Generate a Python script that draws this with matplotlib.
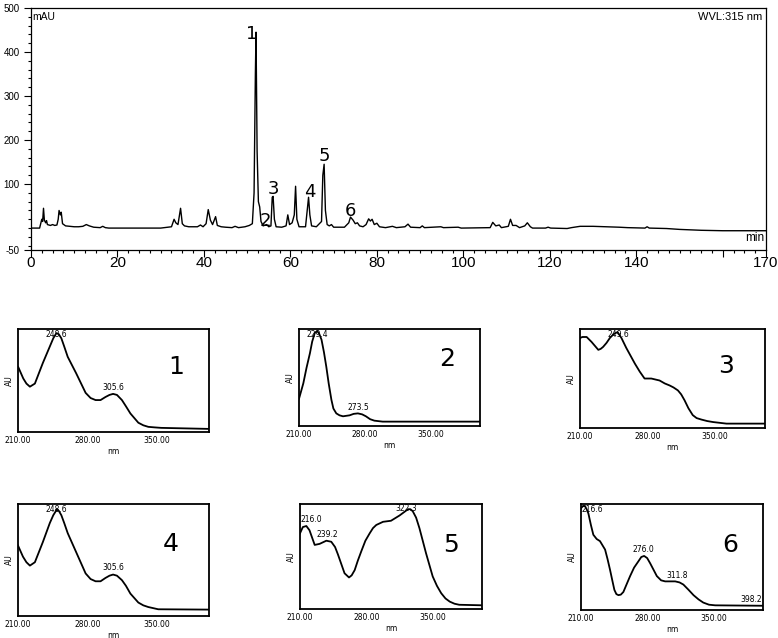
import numpy as np
import matplotlib
matplotlib.use("Agg")
import matplotlib.pyplot as plt
from matplotlib.ticker import MultipleLocator, FixedLocator

# ---------------- chromatogram data (min, mAU) ----------------
chrom_time = [0, 2.0, 2.3, 2.5, 2.7, 2.9, 3.1, 3.4, 3.6, 3.8, 4.5, 5.0, 5.5, 6.0, 6.3, 6.5, 6.8, 7.0,
              7.3, 8.0, 9.0, 10.0, 11.0, 12.0, 12.8, 13.5, 14.5, 16.0, 16.6, 17.2, 18, 30, 32.5, 33.1,
              33.5, 34.0, 34.6, 35.0, 35.5, 36.5, 38.5, 39.2, 39.8, 40.5, 41.0, 41.5, 42.0, 42.7, 43.1,
              44, 45, 46.5, 47.2, 48, 49.5, 50.5, 51.2, 51.6, 51.9, 52.05, 52.3, 52.6, 52.9, 53.2, 53.7,
              54.5, 55.0, 55.5, 55.8, 56.0, 56.3, 56.7, 58.0, 59.0, 59.4, 59.8, 60.4, 60.9, 61.2, 61.5,
              62.0, 63.5, 63.9, 64.2, 64.5, 64.9, 66.0, 67.2, 67.5, 67.8, 68.1, 68.5, 69.0, 69.5, 70.0,
              72.5, 73.5, 73.9, 74.5, 75.0, 75.5, 76.0, 76.8, 77.5, 78.1, 78.5, 78.9, 79.4, 80.0, 80.6,
              82, 83.6, 84.5, 86.5, 87.2, 87.8, 90.0, 90.5, 91.0, 94.8, 95.4, 98.8, 99.5, 106.2, 106.8,
              107.5, 108.3, 108.8, 110.4, 110.9, 111.4, 112.2, 113, 114.2, 114.8, 115.5, 116.0, 119,
              119.6, 120.2, 124, 125, 127, 130, 133, 136, 138, 142, 142.5, 143, 147, 150, 155, 160, 165, 170]
chrom_mau = [0, 0, 12, 20, 15, 45, 18, 12, 17, 8, 6, 8, 6, 7, 20, 40, 30, 36,
             10, 5, 4, 3, 3, 4, 8, 5, 2, 1, 4, 1, 0, 0, 3, 20,
             12, 8, 45, 10, 5, 3, 3, 7, 3, 10, 42, 18, 8, 26, 6,
             3, 2, 1, 4, 1, 3, 6, 10, 80, 350, 445, 175, 60, 48, 15, 5,
             8, 3, 5, 70, 72, 20, 3, 2, 5, 30, 8, 12, 30, 95, 20,
             3, 3, 40, 70, 30, 5, 3, 15, 120, 145, 40, 8, 5, 8, 2,
             2, 12, 25, 18, 10, 12, 5, 3, 8, 21, 16, 20, 8, 11, 3,
             1, 4, 1, 3, 9, 2, 1, 5, 1, 3, 1, 2, 0, 1, 13,
             5, 7, 1, 4, 20, 6, 6, 1, 5, 12, 3, 0, 0,
             2, 0, -1, 1, 4, 4, 3, 2, 1, 0, 3, 0, -1, -3, -5, -6, -6, -6]
peak_ids = ["1", "2", "3", "4", "5", "6"]
peak_label_time = [51.1, 54.1, 56.0, 64.4, 67.8, 73.8]
peak_label_mau = [441, 17, 89, 83, 163, 39]
x_tick_values = [0, 20, 40, 60, 80, 100, 120, 140, 160, 170]
x_tick_labels = ["0", "20", "40", "60", "80", "100", "120", "140", "", "170"]
y_tick_values = [-50, 100, 200, 300, 400, 500]
y_tick_labels = ["-50", "100", "200", "300", "400", "500"]

# ---------------- UV spectra (nm, relative AU) ----------------
spec1_nm = [210.3, 215.3, 218.5, 222, 227, 231, 235, 242, 245.5, 248.6, 251, 253.6, 256.5, 260, 268.5, 278,
            283, 288, 293, 298, 302, 305.6, 309.5, 314.5, 318.5, 323, 331, 336, 341, 347, 354, 402]
spec1_au = [0.63, 0.52, 0.47, 0.44, 0.47, 0.57, 0.67, 0.83, 0.91, 0.96, 0.95, 0.91, 0.83, 0.73, 0.57, 0.38,
            0.33, 0.31, 0.31, 0.34, 0.36, 0.37, 0.36, 0.31, 0.25, 0.18, 0.09, 0.065, 0.05, 0.045, 0.04, 0.03]
spec1_peaks = ["248.6", "305.6"]

spec2_nm = [210, 214.6, 218, 221.6, 224, 226.8, 229.3, 231.5, 233.9, 236.5, 239, 241.5, 244.4, 246.5, 249.6,
            253, 256.7, 263.7, 268, 272.5, 277, 281, 285.5, 290, 298.8, 402]
spec2_au = [0.28, 0.44, 0.60, 0.75, 0.87, 0.96, 0.98, 0.95, 0.89, 0.76, 0.61, 0.44, 0.27, 0.18, 0.13,
            0.11, 0.10, 0.11, 0.125, 0.13, 0.12, 0.10, 0.07, 0.055, 0.045, 0.045]
spec2_peaks = ["229.4", "273.5"]

spec3_nm = [210, 212.5, 216.9, 222, 225.5, 229, 231.5, 234, 237.5, 241, 245, 249, 253, 258, 262.5, 267, 272,
            277, 280.5, 284, 292.6, 298, 303, 307, 311.6, 315, 318.5, 322.5, 327, 331, 336, 342, 348, 362, 402]
spec3_au = [0.91, 0.92, 0.92, 0.87, 0.83, 0.79, 0.80, 0.82, 0.86, 0.91, 0.95, 0.97, 0.91, 0.81, 0.73, 0.65, 0.57,
            0.50, 0.50, 0.50, 0.48, 0.45, 0.43, 0.41, 0.38, 0.34, 0.28, 0.20, 0.13, 0.10, 0.085, 0.07, 0.06, 0.044, 0.044]
spec3_peaks = ["249.6"]

spec4_nm = [210, 215, 218.5, 222, 227, 231, 235, 242, 245.5, 249, 251, 253.6, 256.5, 260, 268.5, 278,
            283, 288, 293, 298, 302, 305.6, 309.5, 314.5, 318.5, 323, 331, 336, 341, 346, 351, 402]
spec4_au = [0.63, 0.53, 0.48, 0.45, 0.48, 0.57, 0.66, 0.83, 0.90, 0.95, 0.94, 0.90, 0.83, 0.74, 0.57, 0.38,
            0.33, 0.31, 0.31, 0.34, 0.36, 0.37, 0.36, 0.32, 0.27, 0.20, 0.12, 0.095, 0.08, 0.07, 0.06, 0.057]
spec4_peaks = ["248.6", "305.6"]

spec5_nm = [210, 213, 216.7, 220, 225.5, 230.7, 237.8, 243, 247, 250, 253.5, 257, 261.7, 264.5, 267.7, 271,
            274.7, 279, 283.5, 287, 290.5, 297.6, 306, 315, 319.5, 324, 326.5, 329, 332.5, 336, 343, 346.5,
            350, 354.5, 359, 363.5, 368, 373, 378, 402]
spec5_au = [0.72, 0.78, 0.79, 0.75, 0.61, 0.62, 0.65, 0.64, 0.59, 0.52, 0.43, 0.34, 0.30, 0.32, 0.37, 0.46,
            0.55, 0.65, 0.72, 0.77, 0.80, 0.83, 0.84, 0.89, 0.92, 0.95, 0.95, 0.93, 0.87, 0.77, 0.53, 0.42,
            0.31, 0.22, 0.15, 0.10, 0.07, 0.05, 0.04, 0.035]
spec5_peaks = ["216.0", "239.2", "322.3"]

spec6_nm = [210, 212, 214.2, 216, 217.8, 220.5, 223, 226.5, 230, 235.4, 238, 240.6, 243, 245.2, 247.3, 249.5,
            252, 254.7, 258, 261.8, 266, 270.6, 273.6, 276.6, 279.8, 283, 286.5, 290, 294.5, 298.8, 304,
            309.4, 314, 318, 323.5, 328.7, 334, 339, 345, 351.6, 402]
spec6_au = [0.96, 0.98, 0.98, 0.95, 0.91, 0.80, 0.71, 0.67, 0.65, 0.57, 0.48, 0.38, 0.28, 0.19, 0.15, 0.14,
            0.145, 0.17, 0.24, 0.32, 0.40, 0.46, 0.50, 0.51, 0.49, 0.44, 0.38, 0.32, 0.28, 0.27, 0.27,
            0.27, 0.26, 0.24, 0.19, 0.14, 0.10, 0.07, 0.05, 0.044, 0.04]
spec6_peaks = ["216.6", "276.0", "311.8", "398.2"]

spec_tick_values = [210, 280, 350]
spec_tick_labels = ["210.00", "280.00", "350.00"]

spectra = [
    ("1", spec1_nm, spec1_au, spec1_peaks),
    ("2", spec2_nm, spec2_au, spec2_peaks),
    ("3", spec3_nm, spec3_au, spec3_peaks),
    ("4", spec4_nm, spec4_au, spec4_peaks),
    ("5", spec5_nm, spec5_au, spec5_peaks),
    ("6", spec6_nm, spec6_au, spec6_peaks),
]

# ---------------- layout ----------------
fig = plt.figure(figsize=(7.78, 6.38), dpi=100)
sans = "Liberation Sans"

ax = fig.add_axes([0.0398, 0.608, 0.9448, 0.3795])
ax.plot(chrom_time, chrom_mau, color="black", lw=1.0)
ax.set_xlim(0, 170)
ax.set_ylim(-50, 500)
ax.xaxis.set_major_locator(FixedLocator(x_tick_values))
ax.set_xticklabels(x_tick_labels, fontfamily=sans, fontsize=11)
ax.xaxis.set_minor_locator(MultipleLocator(2.5))
ax.yaxis.set_major_locator(FixedLocator(y_tick_values))
ax.set_yticklabels(y_tick_labels, fontfamily=sans, fontsize=7)
ax.yaxis.set_minor_locator(FixedLocator([v for v in range(-40, 500, 20) if v not in y_tick_values]))
ax.tick_params(axis="x", which="major", length=5, width=0.8, pad=-1)
ax.tick_params(axis="x", which="minor", length=2, width=0.8)
ax.tick_params(axis="y", which="major", length=5, width=0.8, pad=3)
ax.tick_params(axis="y", which="minor", length=2.5, width=0.8)
for s in ax.spines.values():
    s.set_linewidth(0.9)
ax.text(0.002, 0.985, "mAU", transform=ax.transAxes, ha="left", va="top",
        fontfamily=sans, fontsize=7.5)
ax.text(0.995, 0.985, "WVL:315 nm", transform=ax.transAxes, ha="right", va="top",
        fontfamily=sans, fontsize=8)
ax.text(0.998, 0.025, "min", transform=ax.transAxes, ha="right", va="bottom",
        fontfamily=sans, fontsize=8.5)
for pid, t, v in zip(peak_ids, peak_label_time, peak_label_mau):
    ax.text(t, v, pid, ha="center", va="center", fontsize=13, fontfamily="DejaVu Sans")

panel_rects = [
    [0.0231, 0.3229, 0.2455, 0.1614],
    [0.3843, 0.3323, 0.2326, 0.1520],
    [0.7455, 0.3292, 0.2378, 0.1550],
    [0.0231, 0.0345, 0.2455, 0.1755],
    [0.3856, 0.0455, 0.2339, 0.1646],
    [0.7468, 0.0439, 0.2339, 0.1661],
]
number_pos = [(0.83, 0.63), (0.82, 0.69), (0.79, 0.63), (0.80, 0.64), (0.83, 0.61), (0.82, 0.61)]

for rect, (num, nm, au, peaks), npos in zip(panel_rects, spectra, number_pos):
    a = fig.add_axes(rect)
    a.plot(nm, au, color="black", lw=1.3, solid_joinstyle="round")
    a.set_xlim(210, 402)
    a.set_ylim(0, 1.0)
    a.set_xticks(spec_tick_values)
    a.set_xticklabels(spec_tick_labels, fontsize=5.5, fontfamily="DejaVu Sans")
    a.set_yticks([])
    a.tick_params(axis="x", length=0, pad=3)
    a.set_xlabel("nm", fontsize=5.5, labelpad=1)
    a.set_ylabel("AU", fontsize=5.5, labelpad=3)
    for s in a.spines.values():
        s.set_linewidth(1.3)
    for p in peaks:
        x = float(p)
        y = float(np.interp(x, nm, au))
        ha = "center"
        if x - 210 < 12:
            ha, x = "left", 211
        elif 402 - x < 12:
            ha, x = "right", 401
        if y > 0.85:
            a.text(x, 0.995, p, ha=ha, va="top", fontsize=5.5)
        else:
            a.text(x, y + 0.02, p, ha=ha, va="bottom", fontsize=5.5)
    a.text(npos[0], npos[1], num, transform=a.transAxes, ha="center", va="center",
           fontsize=18, fontfamily="DejaVu Sans")

fig.savefig("out.png", dpi=100)
